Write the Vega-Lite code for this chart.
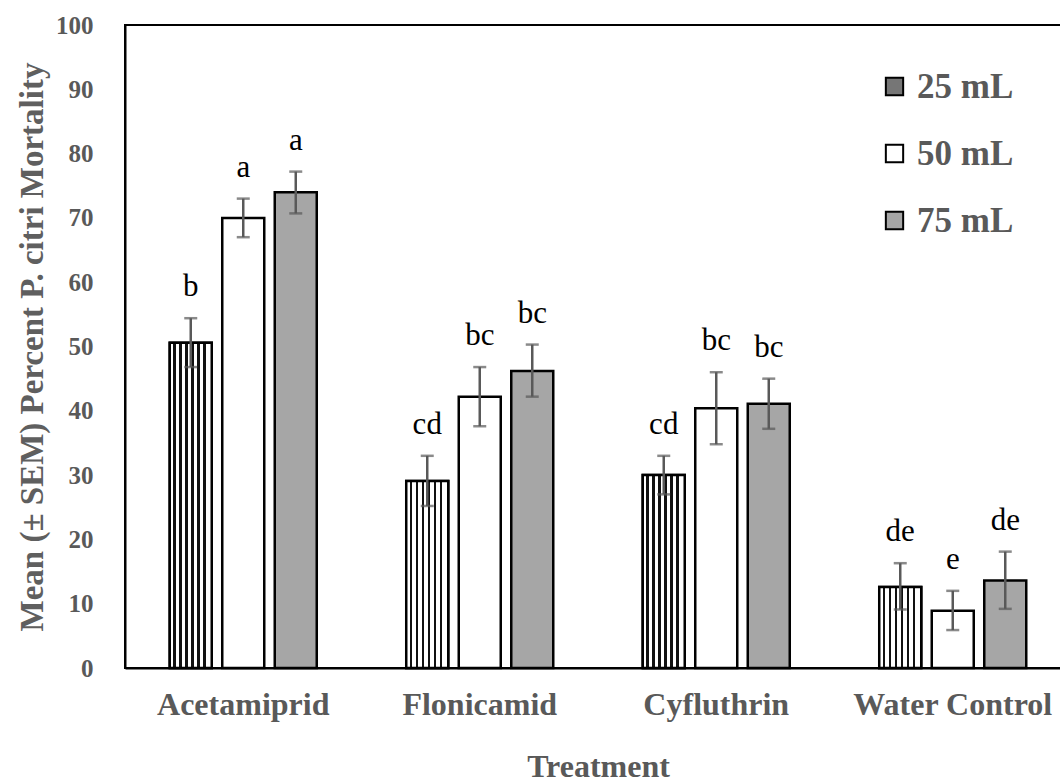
{
  "$schema": "https://vega.github.io/schema/vega-lite/v6.json",
  "width": 946,
  "height": 643,
  "autosize": {"type": "none"},
  "padding": {"left": 125, "top": 25, "right": 0, "bottom": 114},
  "background": "white",
  "config": {
    "view": {"stroke": "black", "strokeWidth": 2},
    "font": "Liberation Serif"
  },
  "data": {
    "values": [
      {"treatment": "Acetamiprid", "volume": "25 mL", "mean": 50.6, "lo": 46.8, "hi": 54.4, "grp": "b"},
      {"treatment": "Acetamiprid", "volume": "50 mL", "mean": 70.0, "lo": 67.0, "hi": 73.0, "grp": "a"},
      {"treatment": "Acetamiprid", "volume": "75 mL", "mean": 74.0, "lo": 70.7, "hi": 77.2, "grp": "a"},
      {"treatment": "Flonicamid", "volume": "25 mL", "mean": 29.1, "lo": 25.2, "hi": 33.0, "grp": "cd"},
      {"treatment": "Flonicamid", "volume": "50 mL", "mean": 42.2, "lo": 37.6, "hi": 46.8, "grp": "bc"},
      {"treatment": "Flonicamid", "volume": "75 mL", "mean": 46.2, "lo": 42.2, "hi": 50.3, "grp": "bc"},
      {"treatment": "Cyfluthrin", "volume": "25 mL", "mean": 30.0, "lo": 27.0, "hi": 33.0, "grp": "cd"},
      {"treatment": "Cyfluthrin", "volume": "50 mL", "mean": 40.4, "lo": 34.8, "hi": 46.0, "grp": "bc"},
      {"treatment": "Cyfluthrin", "volume": "75 mL", "mean": 41.1, "lo": 37.2, "hi": 45.0, "grp": "bc"},
      {"treatment": "Water Control", "volume": "25 mL", "mean": 12.6, "lo": 9.1, "hi": 16.3, "grp": "de"},
      {"treatment": "Water Control", "volume": "50 mL", "mean": 8.9, "lo": 5.9, "hi": 12.0, "grp": "e"},
      {"treatment": "Water Control", "volume": "75 mL", "mean": 13.6, "lo": 9.2, "hi": 18.1, "grp": "de"}
    ]
  },
  "encoding": {
    "x": {
      "field": "treatment",
      "type": "nominal",
      "sort": ["Acetamiprid", "Flonicamid", "Cyfluthrin", "Water Control"],
      "scale": {"paddingInner": 0.334, "paddingOuter": 0.167},
      "axis": {
        "title": "Treatment",
        "labelAngle": 0,
        "labelLimit": 0,
        "ticks": false,
        "domainColor": "black",
        "domainWidth": 2,
        "labelFont": "Liberation Serif",
        "labelFontSize": 32,
        "labelFontWeight": "bold",
        "labelColor": "#595959",
        "labelPadding": 21,
        "titleFont": "Liberation Serif",
        "titleFontSize": 32,
        "titleFontWeight": "bold",
        "titleColor": "#595959",
        "titlePadding": 31
      }
    },
    "xOffset": {
      "field": "volume",
      "type": "nominal",
      "sort": ["25 mL", "50 mL", "75 mL"],
      "scale": {"paddingInner": 0.2, "paddingOuter": 0.1}
    },
    "y": {
      "field": "mean",
      "type": "quantitative",
      "title": "Mean (± SEM) Percent P. citri Mortality",
      "scale": {"domain": [0, 100], "nice": false},
      "axis": {
        "values": [0, 10, 20, 30, 40, 50, 60, 70, 80, 90, 100],
        "ticks": false,
        "grid": false,
        "domainColor": "black",
        "domainWidth": 2,
        "labelFont": "Liberation Serif",
        "labelFontSize": 25,
        "labelFontWeight": "bold",
        "labelColor": "#595959",
        "labelPadding": 32,
        "titleFont": "Liberation Serif",
        "titleFontSize": 33,
        "titleFontWeight": "bold",
        "titleColor": "#5f5f5f",
        "titlePadding": 6
      }
    }
  },
  "layer": [
    {
      "mark": {"type": "bar", "stroke": "black", "strokeWidth": 2.5},
      "encoding": {
        "fill": {
          "field": "volume",
          "type": "nominal",
          "scale": {
            "domain": ["25 mL", "50 mL", "75 mL"],
            "range": ["#767676", "#ffffff", "#a6a6a6"]
          },
          "legend": {
            "orient": "none",
            "legendX": 752,
            "legendY": 44,
            "title": null,
            "symbolType": "square",
            "symbolSize": 300,
            "symbolStrokeColor": "black",
            "symbolStrokeWidth": 2,
            "labelFont": "Liberation Serif",
            "labelFontSize": 35,
            "labelFontWeight": "bold",
            "labelColor": "#595959",
            "labelOffset": 5,
            "rowPadding": 31
          }
        }
      }
    },
    {
      "transform": [{"filter": "datum.volume === '25 mL'"}],
      "mark": {
        "type": "bar",
        "stroke": "black",
        "strokeWidth": 2.5,
        "fill": {
          "gradient": "linear",
          "x1": 0, "y1": 0, "x2": 1, "y2": 0,
          "stops": [
            {"offset": 0, "color": "#ffffff"},
            {"offset": 0.0857, "color": "#ffffff"},
            {"offset": 0.0857, "color": "#111111"},
            {"offset": 0.1429, "color": "#111111"},
            {"offset": 0.1429, "color": "#ffffff"},
            {"offset": 0.2286, "color": "#ffffff"},
            {"offset": 0.2286, "color": "#111111"},
            {"offset": 0.2857, "color": "#111111"},
            {"offset": 0.2857, "color": "#ffffff"},
            {"offset": 0.3714, "color": "#ffffff"},
            {"offset": 0.3714, "color": "#111111"},
            {"offset": 0.4286, "color": "#111111"},
            {"offset": 0.4286, "color": "#ffffff"},
            {"offset": 0.5143, "color": "#ffffff"},
            {"offset": 0.5143, "color": "#111111"},
            {"offset": 0.5714, "color": "#111111"},
            {"offset": 0.5714, "color": "#ffffff"},
            {"offset": 0.6571, "color": "#ffffff"},
            {"offset": 0.6571, "color": "#111111"},
            {"offset": 0.7143, "color": "#111111"},
            {"offset": 0.7143, "color": "#ffffff"},
            {"offset": 0.8, "color": "#ffffff"},
            {"offset": 0.8, "color": "#111111"},
            {"offset": 0.8571, "color": "#111111"},
            {"offset": 0.8571, "color": "#ffffff"},
            {"offset": 1, "color": "#ffffff"}
          ]
        }
      },
      "encoding": {}
    },
    {
      "mark": {"type": "rule", "color": "#595959", "strokeWidth": 2.5},
      "encoding": {
        "y": {"field": "lo", "type": "quantitative"},
        "y2": {"field": "hi"}
      }
    },
    {
      "mark": {"type": "tick", "color": "#595959", "thickness": 2.5, "size": 13},
      "encoding": {
        "y": {"field": "lo", "type": "quantitative"}
      }
    },
    {
      "mark": {"type": "tick", "color": "#595959", "thickness": 2.5, "size": 13},
      "encoding": {
        "y": {"field": "hi", "type": "quantitative"}
      }
    },
    {
      "mark": {"type": "text", "font": "Liberation Serif", "fontSize": 31, "color": "black", "baseline": "alphabetic", "dy": -22},
      "encoding": {
        "y": {"field": "hi", "type": "quantitative"},
        "text": {"field": "grp"}
      }
    }
  ]
}
